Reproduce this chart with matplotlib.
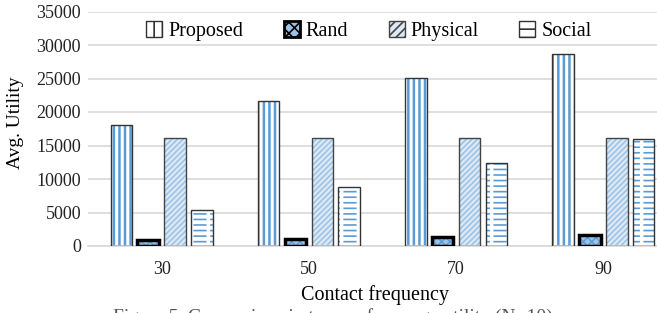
import numpy as np
import matplotlib as mpl
import matplotlib.pyplot as plt
from matplotlib.patches import Patch

plt.rcParams['font.family'] = ['Liberation Serif', 'DejaVu Serif']
plt.rcParams['hatch.linewidth'] = 1.2

freqs = ['30', '50', '70', '90']
proposed = [18000, 21600, 25100, 28700]
rand = [900, 1100, 1300, 1600]
physical = [16100, 16100, 16100, 16100]
social = [5300, 8800, 12400, 16000]

fig = plt.figure(figsize=(6.57, 3.13), dpi=100)
# axes extends a little past the right edge, like the cropped original
ax = fig.add_axes([88 / 657, 67 / 313, 589 / 657, 234.5 / 313])

x = np.arange(len(freqs))
width = 0.146
step = 0.182
blue = '#5B9BD5'
light = '#9DC3E6'


def hatched(pos, vals, face, hcolor, hatch, hlw, **kw):
    with mpl.rc_context({'hatch.linewidth': hlw}):
        bars = ax.bar(pos, vals, width, color=face, edgecolor=hcolor,
                      hatch=hatch, linewidth=0, **kw)
    for b in bars:
        if hasattr(b, 'set_hatch_linewidth'):
            b.set_hatch_linewidth(hlw)
    return bars


# Proposed: vertical blue stripes
hatched(x - 1.5 * step, proposed, 'white', blue, '|||', 1.8, zorder=2)
ax.bar(x - 1.5 * step, proposed, width, fill=False, edgecolor='#333333',
       linewidth=1.0, zorder=3)
# Rand: dotted blue with thick black border
hatched(x - 0.5 * step, rand, light, blue, 'xxxx', 1.0, zorder=2)
ax.bar(x - 0.5 * step, rand, width, fill=False, edgecolor='black',
       linewidth=2.5, zorder=3)
# Physical: light diagonal stripes
hatched(x + 0.5 * step, physical, '#DDE9F5', light, '//////', 1.2, zorder=2)
ax.bar(x + 0.5 * step, physical, width, fill=False, edgecolor='#444444',
       linewidth=1.0, zorder=3)
# Social: dashed horizontal lines (lines broken up by white stripes)
hatched(x + 1.5 * step, social, 'white', blue, '---', 1.2, zorder=2)
hatched(x + 1.5 * step, social, 'none', 'white', '|', 2.5, zorder=2.5)
ax.bar(x + 1.5 * step, social, width, fill=False, edgecolor='#333333',
       linewidth=1.0, zorder=3)

handles = [
    Patch(facecolor='white', edgecolor='#333333', hatch='||', label='Proposed'),
    Patch(facecolor=light, edgecolor='black', linewidth=2, hatch='xxx', label='Rand'),
    Patch(facecolor='#DDE9F5', edgecolor='#444444', hatch='////', label='Physical'),
    Patch(facecolor='white', edgecolor='#333333', hatch='--', label='Social'),
]
ax.legend(handles=handles, loc='center', bbox_to_anchor=(281 / 589, 0.917),
          ncol=4, frameon=False, fontsize=14.5, handlelength=0.8,
          handleheight=0.8, handletextpad=0.3, columnspacing=2.0)

ax.set_xlim(-0.5, 3.5)
ax.set_ylim(0, 35000)
ax.set_yticks(np.arange(0, 35001, 5000))
ax.set_xticks(x, freqs)
ax.yaxis.grid(True, color='#D9D9D9', linewidth=1.2, zorder=0)
ax.set_axisbelow(True)
for s in ['top', 'right', 'left']:
    ax.spines[s].set_visible(False)
ax.spines['bottom'].set_color('#D9D9D9')
ax.spines['bottom'].set_linewidth(1.2)
ax.tick_params(axis='both', length=0, labelsize=13, colors='#222222')
ax.tick_params(axis='x', pad=11)
ax.tick_params(axis='y', pad=5)

ax.set_ylabel('Avg. Utility', fontsize=14)
ax.yaxis.set_label_coords(-64 / 589, 0.525)
fig.text(375 / 657, 1 - 295 / 313, 'Contact frequency', fontsize=14.5,
         ha='center', va='center')
# caption, mostly cut off at the bottom edge as in the original
fig.text(333 / 657, 1 - 308 / 313, 'Figure 5. Comparison in terms of average utility (N=10)',
         fontsize=14, ha='center', va='top', color='#555555')

fig.savefig('out.png', dpi=100)
